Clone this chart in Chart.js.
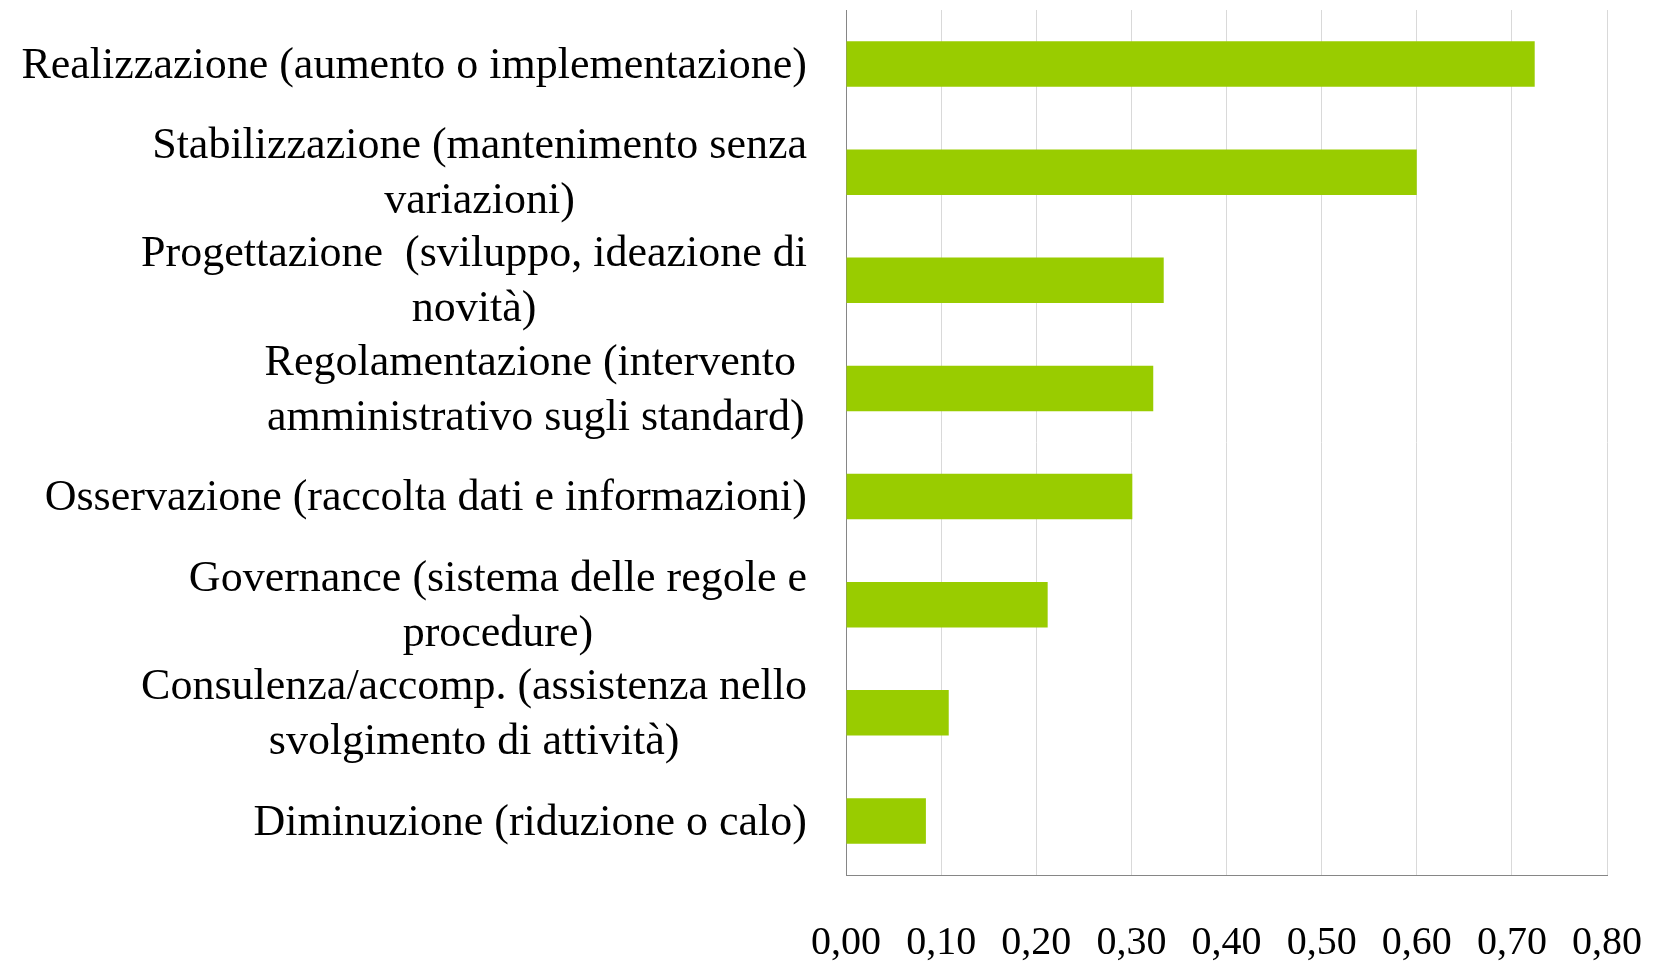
<!DOCTYPE html>
<html>
<head>
<meta charset="utf-8">
<script src="https://cdn.jsdelivr.net/npm/chart.js@4/dist/chart.umd.min.js"></script>
<style>
  html, body { margin: 0; padding: 0; background: #fff; overflow: hidden; }
</style>
</head>
<body>
<canvas id="barCanvas" width="1659" height="962"></canvas>
<script>
// categorie e valori
const categorie = [
    ["Realizzazione (aumento o implementazione)"],
    ["Stabilizzazione (mantenimento senza", "variazioni)"],
    ["Progettazione  (sviluppo, ideazione di", "novità)"],
    ["Regolamentazione (intervento ", "amministrativo sugli standard)"],
    ["Osservazione (raccolta dati e informazioni)"],
    ["Governance (sistema delle regole e", "procedure)"],
    ["Consulenza/accomp. (assistenza nello", "svolgimento di attività)"],
    ["Diminuzione (riduzione o calo)"]
];
const valori = [0.724, 0.600, 0.334, 0.323, 0.301, 0.212, 0.108, 0.084];
const tickValori = [0, 0.1, 0.2, 0.3, 0.4, 0.5, 0.6, 0.7, 0.8];

const fontFamily = "'Liberation Serif', 'DejaVu Serif', serif";
const fontSize = 40;
const labelSize = 44;
const lineH = 55;

// etichette centrate riga per riga, allineate a destra come blocco
const etichettePlugin = {
    id: "etichette",
    afterDraw(chart) {
        const ctx = chart.ctx;
        const y = chart.scales.y;
        const right = y.right - 39;
        ctx.save();
        ctx.font = labelSize + "px " + fontFamily;
        ctx.fillStyle = "#000";
        ctx.textAlign = "center";
        ctx.textBaseline = "middle";
        categorie.forEach((righe, i) => {
            const cy = y.getPixelForTick(i) + 2;
            let larg = 0;
            righe.forEach(r => { larg = Math.max(larg, ctx.measureText(r).width); });
            const cx = right - larg / 2;
            const y0 = cy - (righe.length - 1) * lineH / 2;
            righe.forEach((r, k) => ctx.fillText(r, cx, y0 + k * lineH));
        });
        ctx.restore();
    }
};

const barChart = new Chart(document.getElementById("barCanvas"), {
    type: "bar",
    data: {
        labels: categorie,
        datasets: [{
            data: valori,
            backgroundColor: "#99CC00",
            borderWidth: 0,
            barPercentage: 0.42,
            categoryPercentage: 1
        }]
    },
    options: {
        indexAxis: "y",
        responsive: false,
        animation: false,
        devicePixelRatio: 1,
        layout: { padding: { top: 10, right: 52, left: 0, bottom: 0 } },
        plugins: { legend: { display: false }, tooltip: { enabled: false } },
        scales: {
            x: {
                min: 0,
                max: 0.8,
                afterBuildTicks(scale) {
                    scale.ticks = tickValori.map(v => ({ value: v }));
                },
                afterFit(scale) {
                    scale.height = 87;
                    scale.paddingLeft = 0;
                    scale.paddingRight = 0;
                },
                ticks: {
                    padding: 44,
                    color: "#000",
                    font: { family: fontFamily, size: fontSize },
                    maxRotation: 0,
                    callback: v => v.toFixed(2).replace(".", ",")
                },
                grid: { color: "#d9d9d9", lineWidth: 1, drawTicks: false },
                border: { display: true, color: "#868686", width: 1 }
            },
            y: {
                afterFit(scale) { scale.width = 846; },
                ticks: { display: false },
                grid: { display: false, drawTicks: false },
                border: { display: true, color: "#868686", width: 1 }
            }
        }
    },
    plugins: [etichettePlugin]
});
</script>
</body>
</html>
